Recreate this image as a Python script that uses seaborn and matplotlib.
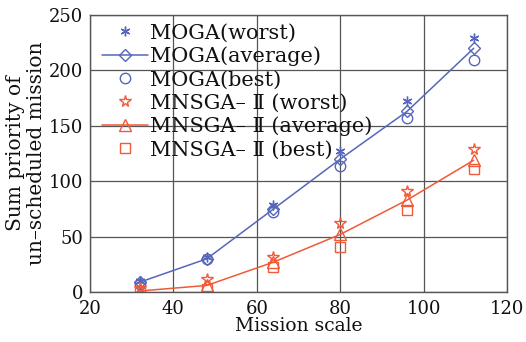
import matplotlib
matplotlib.use("Agg")
import matplotlib.pyplot as plt
import seaborn as sns
import pandas as pd

mission_scale = [32, 48, 64, 80, 96, 112]
moga_worst = [10, 32, 79, 127, 172, 229]
moga_avg = [9, 30, 75, 120, 163, 220]
moga_best = [7, 30, 72, 114, 157, 209]
mnsga_worst = [4, 12, 32, 62, 91, 129]
mnsga_avg = [1, 6, 27, 52, 83, 119]
mnsga_best = [0, 3, 23, 41, 74, 111]

labels = ["MOGA(worst)", "MOGA(average)", "MOGA(best)",
          "MNSGA– Ⅱ (worst)", "MNSGA– Ⅱ (average)", "MNSGA– Ⅱ (best)"]

sns.set_theme(style="white")
plt.rcParams['font.family'] = ['DejaVu Serif', 'DejaVu Sans']
plt.rcParams['mathtext.fontset'] = 'dejavuserif'

blue = "#5566bb"
red = "#f05a38"

fig = plt.figure(figsize=(5.26, 3.42), dpi=100)
ax = fig.add_axes([0.171, 0.146, 0.793, 0.81])

df_moga = pd.DataFrame({"x": mission_scale, "worst": moga_worst, "avg": moga_avg, "best": moga_best})
df_mn = pd.DataFrame({"x": mission_scale, "worst": mnsga_worst, "avg": mnsga_avg, "best": mnsga_best})

mew = 1.0
sns.lineplot(data=df_moga, x="x", y="worst", ax=ax, color=blue, marker=(6, 2, 0), markersize=7,
             linestyle="none", markeredgecolor=blue, markeredgewidth=mew, label=labels[0])
sns.lineplot(data=df_moga, x="x", y="avg", ax=ax, color=blue, marker="D", markersize=6.5,
             markerfacecolor="none", markeredgecolor=blue, markeredgewidth=mew, linewidth=1.1, label=labels[1])
sns.lineplot(data=df_moga, x="x", y="best", ax=ax, color=blue, marker="o", markersize=7.5,
             markerfacecolor="none", markeredgecolor=blue, markeredgewidth=mew, linestyle="none", label=labels[2])
sns.lineplot(data=df_mn, x="x", y="worst", ax=ax, color=red, marker="*", markersize=8.5,
             markerfacecolor="none", markeredgecolor=red, markeredgewidth=mew, linestyle="none", label=labels[3])
sns.lineplot(data=df_mn, x="x", y="avg", ax=ax, color=red, marker="^", markersize=8,
             markerfacecolor="none", markeredgecolor=red, markeredgewidth=mew, linewidth=1.1, label=labels[4])
sns.lineplot(data=df_mn, x="x", y="best", ax=ax, color=red, marker="s", markersize=7.5,
             markerfacecolor="none", markeredgecolor=red, markeredgewidth=mew, linestyle="none", label=labels[5])

ax.set_xlim(20, 120)
ax.set_ylim(0, 250)
ax.set_xticks([20, 40, 60, 80, 100, 120])
ax.set_yticks([0, 50, 100, 150, 200, 250])
ax.grid(True, color="#555555", linewidth=0.9)
ax.set_axisbelow(True)
for s in ax.spines.values():
    s.set_color("#555555")
    s.set_linewidth(1.0)
ax.tick_params(direction="in", length=3, color="#555555", labelsize=13, pad=5, labelcolor="#111111")
ax.tick_params(axis="x", pad=6)
ax.set_xlabel("Mission scale", fontsize=13.5, labelpad=-1, color="#111111")
ax.set_ylabel("Sum priority of\nun–scheduled mission", fontsize=14.5, labelpad=2,
              linespacing=1.1, color="#111111")

leg = ax.legend(loc="upper left", frameon=False, fontsize=15, handlelength=2.2,
                handletextpad=0.1, labelspacing=0.2, borderaxespad=0.0,
                bbox_to_anchor=(0.01, 1.0))
for t in leg.get_texts():
    t.set_color("#111111")

fig.savefig("out.png", dpi=100, facecolor="white")
